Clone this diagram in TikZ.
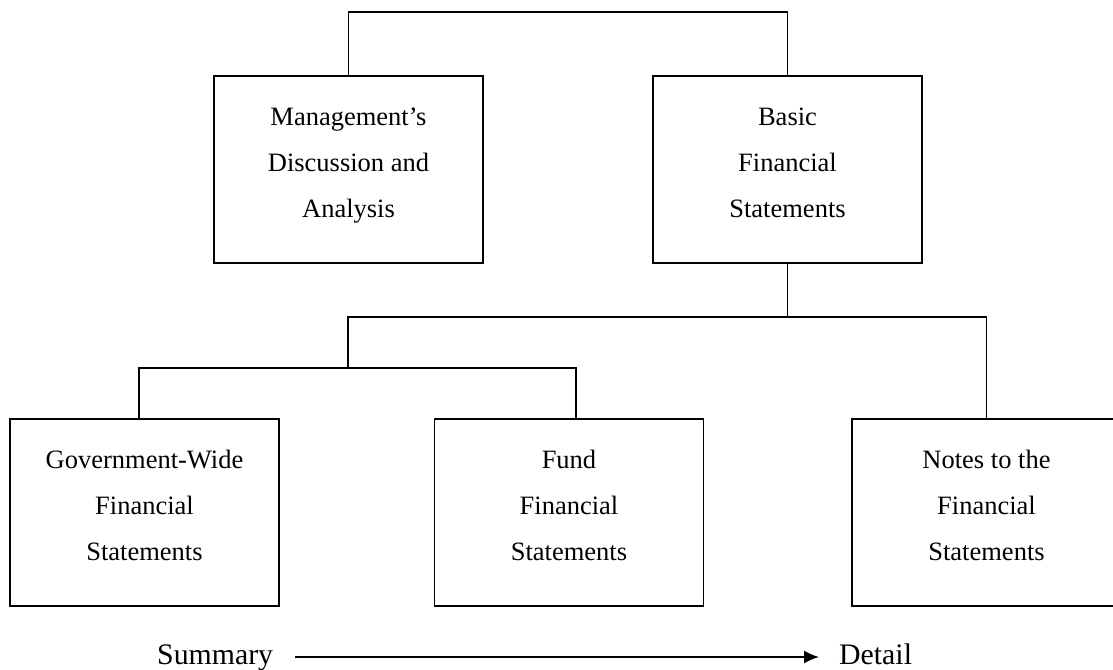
\documentclass[tikz,border=0pt]{standalone}
\usepackage{fontspec}
\setmainfont{Liberation Serif}
\usetikzlibrary{arrows.meta}
\begin{document}
\begin{tikzpicture}[x=1pt,y=-1pt,
  box/.style={draw, line width=1.6pt, minimum width=269pt, minimum height=187pt, inner sep=0pt},
  lbl/.style={align=center, anchor=base, inner sep=0pt, font=\fontsize{26.5}{46}\selectfont},
  conn/.style={line width=1.4pt},
  axislbl/.style={anchor=base west, inner sep=0pt, font=\fontsize{29.8}{36}\selectfont},
  axisline/.style={line width=1.6pt, -{Latex[length=15pt,width=13pt]}}]
\useasboundingbox (0,0) rectangle (1113,669);
% boxes
\node[box] (mda) at (348.5,169.5) {};
\node[box] (bfs) at (787.5,169.5) {};
\node[box] (gw) at (144.5,512.5) {};
\node[box] (fund) at (569,512.5) {};
\node[box] (notes) at (986.5,512.5) {};
% texts (anchor = baseline of the last line)
\node[lbl] (mdat) at (348.5,217) {Management’s\\Discussion and\\Analysis};
\node[lbl] (bfst) at (787.5,217) {Basic\\Financial\\Statements};
\node[lbl] (gwt) at (144.5,560) {Government-Wide\\Financial\\Statements};
\node[lbl] (fundt) at (569,560) {Fund\\Financial\\Statements};
\node[lbl] (notest) at (986.5,560) {Notes to the\\Financial\\Statements};
% connector coordinates
\coordinate (top) at (0,12);
\coordinate (h1) at (348,317);
\coordinate (h2) at (348,368);
\coordinate (gwc) at (139,368);
\coordinate (fdc) at (576,368);
% connectors
\draw[conn] (mda.north) -- (mda.north |- top) -- (bfs.north |- top) -- (bfs.north);
\draw[conn] (bfs.south) -- (bfs.south |- h1);
\draw[conn] (notes.north) -- (notes.north |- h1) -- (h1) -- (h2);
\draw[conn] (gw.north -| gwc) -- (gwc) -- (fdc) -- (fund.north -| fdc);
% summary -> detail
\node[axislbl] (sum) at (157,664) {Summary};
\node[axislbl] (det) at (839,664) {Detail};
\draw[axisline] ([xshift=22pt,yshift=7pt]sum.base east) -- ([xshift=-20pt,yshift=7pt]det.base west);
\end{tikzpicture}
\end{document}
